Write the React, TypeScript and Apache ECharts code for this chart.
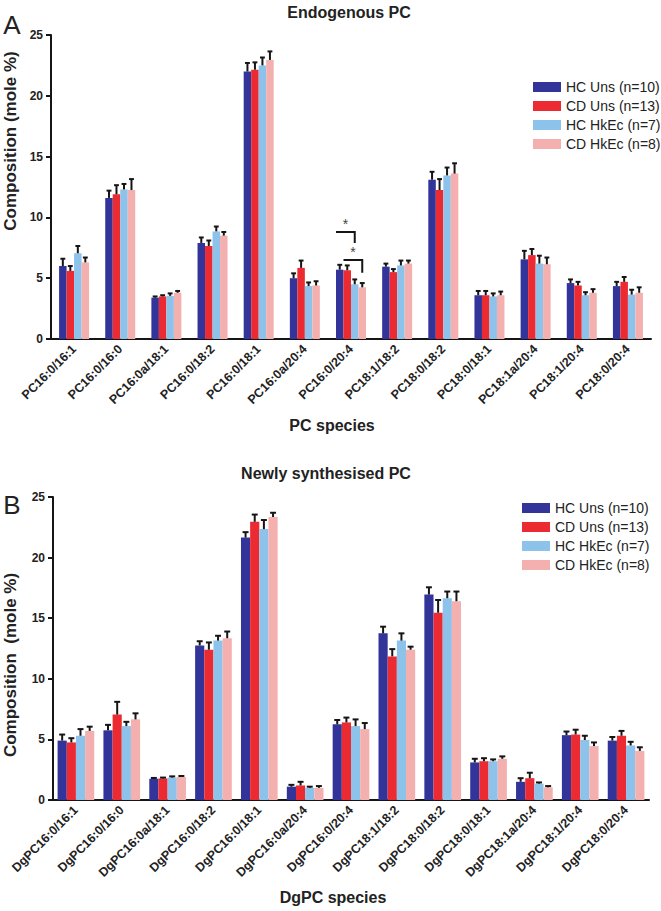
import React, { useEffect, useRef } from "react";
import * as echarts from "echarts";

const seriesNames = ["HC Uns (n=10)", "CD Uns (n=13)", "HC HkEc (n=7)", "CD HkEc (n=8)"];
const colors = ["#33349a", "#ec2a32", "#8dc3ea", "#f4b0ae"];

const speciesA = ["PC16:0/16:1", "PC16:0/16:0", "PC16:0a/18:1", "PC16:0/18:2", "PC16:0/18:1", "PC16:0a/20:4", "PC16:0/20:4", "PC18:1/18:2", "PC18:0/18:2", "PC18:0/18:1", "PC18:1a/20:4", "PC18:1/20:4", "PC18:0/20:4"];
const speciesB = ["DgPC16:0/16:1", "DgPC16:0/16:0", "DgPC16:0a/18:1", "DgPC16:0/18:2", "DgPC16:0/18:1", "DgPC16:0a/20:4", "DgPC16:0/20:4", "DgPC18:1/18:2", "DgPC18:0/18:2", "DgPC18:0/18:1", "DgPC18:1a/20:4", "DgPC18:1/20:4", "DgPC18:0/20:4"];

const yTicks = [0, 5, 10, 15, 20, 25];

// Panel A: means and mean+SEM
const hcUnsA = [6.0, 11.6, 3.4, 7.9, 22.0, 5.0, 5.7, 5.95, 13.1, 3.6, 6.55, 4.6, 4.35];
const hcUnsATop = [6.6, 12.2, 3.5, 8.35, 22.7, 5.4, 6.1, 6.2, 13.75, 3.95, 7.25, 4.9, 4.7];
const cdUnsA = [5.6, 11.9, 3.5, 7.65, 22.15, 5.85, 5.65, 5.5, 12.25, 3.6, 6.9, 4.4, 4.7];
const cdUnsATop = [6.0, 12.65, 3.6, 8.1, 22.75, 6.45, 6.05, 5.75, 13.15, 3.95, 7.4, 4.7, 5.1];
const hcHkA = [7.05, 12.3, 3.55, 8.85, 22.5, 4.35, 4.5, 6.05, 13.45, 3.5, 6.2, 3.6, 3.65];
const hcHkATop = [7.65, 12.75, 3.75, 9.25, 23.15, 4.65, 4.9, 6.45, 14.1, 3.75, 6.85, 3.85, 4.05];
const cdHkA = [6.3, 12.25, 3.8, 8.5, 22.95, 4.4, 4.25, 6.2, 13.6, 3.6, 6.15, 3.8, 3.8];
const cdHkATop = [6.7, 13.15, 3.95, 8.8, 23.65, 4.75, 4.6, 6.45, 14.45, 3.9, 6.7, 4.1, 4.25];

// Panel B
const hcUnsB = [4.9, 5.75, 1.75, 12.75, 21.65, 1.1, 6.25, 13.75, 16.95, 3.1, 1.5, 5.35, 4.9];
const hcUnsBTop = [5.4, 6.2, 1.82, 13.1, 22.1, 1.25, 6.6, 14.3, 17.55, 3.4, 1.8, 5.65, 5.2];
const cdUnsB = [4.75, 7.05, 1.78, 12.4, 22.95, 1.2, 6.4, 11.85, 15.45, 3.2, 1.8, 5.4, 5.3];
const cdUnsBTop = [5.1, 8.1, 1.85, 13.0, 23.55, 1.5, 6.8, 12.45, 16.5, 3.45, 2.25, 5.8, 5.7];
const hcHkB = [5.3, 6.1, 1.85, 13.15, 22.35, 1.0, 6.1, 13.15, 16.65, 3.2, 1.35, 4.95, 4.5];
const hcHkBTop = [5.85, 6.45, 1.95, 13.55, 23.1, 1.1, 6.65, 13.75, 17.2, 3.35, 1.45, 5.3, 4.8];
const cdHkB = [5.7, 6.65, 1.9, 13.35, 23.35, 1.0, 5.85, 12.4, 16.4, 3.4, 1.05, 4.45, 4.05];
const cdHkBTop = [6.05, 7.15, 1.98, 13.9, 23.7, 1.15, 6.35, 12.65, 17.2, 3.6, 1.15, 4.75, 4.35];

// significance brackets in panel A: [category, fromBar, toBar, level, dropTo]
const bracketsA = [
  [6, 0, 2, 8.8, 7.9],
  [6, 1, 3, 6.5, 5.45],
];

const FONT = "'Liberation Sans', Arial, sans-serif";
const GAP_A = 0.35;
const GAP_B = 0.2;

function errSeries(g: number, s: number, means: number[], tops: number[], gap: number) {
  return {
    type: "custom",
    xAxisIndex: g,
    yAxisIndex: g,
    silent: true,
    z: 5,
    data: means.map((m, i) => [i, m, tops[i]]),
    encode: { x: 0, y: 1 },
    renderItem: (params: any, api: any) => {
      const c = api.coord([api.value(0), api.value(1)]);
      const t = api.coord([api.value(0), api.value(2)]);
      const band = api.size([1, 0])[0];
      const bw = (band * (1 - gap)) / 4;
      const x = c[0] + (s - 1.5) * bw;
      const cap = bw * 0.65;
      return {
        type: "group",
        children: [
          { type: "line", shape: { x1: x, y1: c[1], x2: x, y2: t[1] }, style: { stroke: "#151515", lineWidth: 2 } },
          { type: "line", shape: { x1: x - cap / 2, y1: t[1], x2: x + cap / 2, y2: t[1] }, style: { stroke: "#151515", lineWidth: 2 } },
        ],
      };
    },
  };
}

function bracketSeries() {
  return {
    type: "custom",
    xAxisIndex: 0,
    yAxisIndex: 0,
    silent: true,
    z: 6,
    data: bracketsA,
    encode: { x: 0, y: 3 },
    renderItem: (params: any, api: any) => {
      const cat = api.value(0);
      const from = api.value(1);
      const to = api.value(2);
      const c = api.coord([cat, api.value(3)]);
      const d = api.coord([cat, api.value(4)]);
      const band = api.size([1, 0])[0];
      const bw = (band * (1 - GAP_A)) / 4;
      const x1 = c[0] + (from - 2) * bw;
      const x2 = c[0] + (to - 1.5) * bw;
      return {
        type: "group",
        children: [
          { type: "polyline", shape: { points: [[x1, c[1]], [x2, c[1]], [x2, d[1]]] }, style: { stroke: "#151515", lineWidth: 2, fill: null } },
          { type: "text", x: (x1 + x2) / 2, y: c[1] - 1, style: { text: "*", fontSize: 14, fontFamily: FONT, fill: "#444", align: "center", verticalAlign: "bottom" } },
        ],
      };
    },
  };
}

function xAxis(g: number, cats: string[]) {
  return {
    type: "category",
    gridIndex: g,
    data: cats,
    axisLine: { lineStyle: { color: "#151515", width: 2 } },
    axisTick: { alignWithLabel: true, length: 5, lineStyle: { color: "#151515", width: 2 } },
    axisLabel: { interval: 0, rotate: 45, margin: 8, fontSize: 12.5, fontWeight: "bold", fontFamily: FONT, color: "#222" },
  };
}

function yAxis(g: number) {
  return {
    type: "value",
    gridIndex: g,
    min: yTicks[0],
    max: yTicks[yTicks.length - 1],
    interval: yTicks[1] - yTicks[0],
    splitLine: { show: false },
    axisLine: { show: true, lineStyle: { color: "#151515", width: 2 } },
    axisTick: { show: true, length: 5, lineStyle: { color: "#151515", width: 2 } },
    axisLabel: { margin: 8, fontSize: 12, fontWeight: "bold", fontFamily: FONT, color: "#222" },
  };
}

function bars(g: number, data: number[][], gap: number) {
  return data.map((d, s) => ({
    type: "bar",
    name: seriesNames[s],
    xAxisIndex: g,
    yAxisIndex: g,
    data: d,
    barGap: "0%",
    barCategoryGap: `${gap * 100}%`,
    itemStyle: { color: colors[s] },
    z: 2,
  }));
}

function legend(left: number, top: number) {
  return {
    data: seriesNames,
    orient: "vertical",
    left,
    top,
    padding: 0,
    icon: "rect",
    itemWidth: 28,
    itemHeight: 10,
    itemGap: 5,
    selectedMode: false,
    textStyle: { fontSize: 14, lineHeight: 14, fontFamily: FONT, color: "#222" },
  };
}

export default function App() {
  const ref = useRef<HTMLDivElement>(null);
  useEffect(() => {
    if (!ref.current) return;
    const chart = echarts.init(ref.current, undefined, { renderer: "svg" });
    const titleStyle = { fontFamily: FONT, fontWeight: "bold", fill: "#222", align: "center", verticalAlign: "middle" };
    chart.setOption({
      animation: false,
      backgroundColor: "#fff",
      grid: [
        { left: 51, top: 35, width: 600, height: 304 },
        { left: 53, top: 497, width: 596, height: 303 },
      ],
      xAxis: [xAxis(0, speciesA), xAxis(1, speciesB)],
      yAxis: [yAxis(0), yAxis(1)],
      legend: [legend(533, 80), legend(522, 501)],
      series: [
        ...bars(0, [hcUnsA, cdUnsA, hcHkA, cdHkA], GAP_A),
        ...bars(1, [hcUnsB, cdUnsB, hcHkB, cdHkB], GAP_B),
        errSeries(0, 0, hcUnsA, hcUnsATop, GAP_A),
        errSeries(0, 1, cdUnsA, cdUnsATop, GAP_A),
        errSeries(0, 2, hcHkA, hcHkATop, GAP_A),
        errSeries(0, 3, cdHkA, cdHkATop, GAP_A),
        errSeries(1, 0, hcUnsB, hcUnsBTop, GAP_B),
        errSeries(1, 1, cdUnsB, cdUnsBTop, GAP_B),
        errSeries(1, 2, hcHkB, hcHkBTop, GAP_B),
        errSeries(1, 3, cdHkB, cdHkBTop, GAP_B),
        bracketSeries(),
      ],
      graphic: [
        { type: "text", x: 12, y: 25, style: { text: "A", fontSize: 26, fontFamily: FONT, fill: "#222", align: "center", verticalAlign: "middle" } },
        { type: "text", x: 12, y: 505, style: { text: "B", fontSize: 26, fontFamily: FONT, fill: "#222", align: "center", verticalAlign: "middle" } },
        { type: "text", x: 349, y: 12, style: { ...titleStyle, text: "Endogenous PC", fontSize: 16 } },
        { type: "text", x: 326, y: 473, style: { ...titleStyle, text: "Newly synthesised PC", fontSize: 16 } },
        { type: "text", x: 10, y: 141, rotation: Math.PI / 2, style: { ...titleStyle, text: "Composition (mole %)", fontSize: 17 } },
        { type: "text", x: 10, y: 665, rotation: Math.PI / 2, style: { ...titleStyle, text: "Composition  (mole %)", fontSize: 17 } },
        { type: "text", x: 332, y: 425, style: { ...titleStyle, text: "PC species", fontSize: 16 } },
        { type: "text", x: 333, y: 897, style: { ...titleStyle, text: "DgPC species", fontSize: 16 } },
      ],
    });
    return () => chart.dispose();
  }, []);
  return <div ref={ref} style={{ position: "fixed", left: 0, top: 0, width: 661, height: 911, background: "#fff" }} />;
}
